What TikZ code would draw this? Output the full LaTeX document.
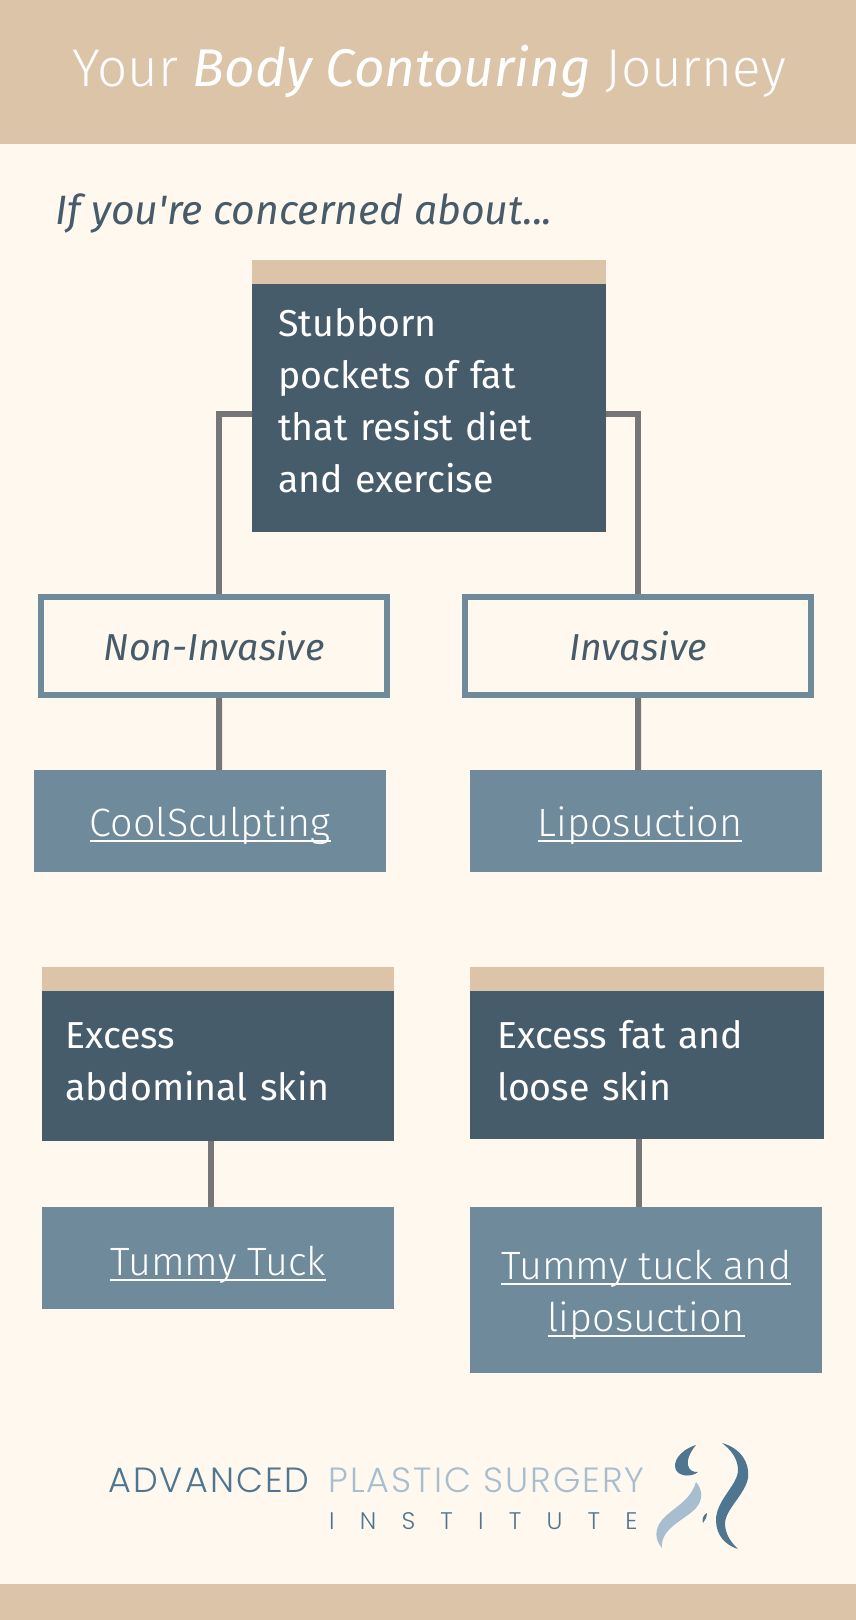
\documentclass[tikz,border=0pt]{standalone}
\usepackage{fontspec}
\usepackage{tikz}
\setmainfont{Fira Sans}
\newfontfamily\plainfont{Fira Sans}
\newfontfamily\lightfont{Fira Sans Light}
\newfontfamily\logofont[LetterSpace=6]{Poppins Light}
\newcommand{\linktext}[1]{\setbox0\hbox{#1}\rlap{\rule[-6pt]{\wd0}{2pt}}\box0}
\definecolor{tan}{HTML}{DBC4A8}
\definecolor{cream}{HTML}{FFF8EE}
\definecolor{slate}{HTML}{475C6B}
\definecolor{steel}{HTML}{6F8A9B}
\definecolor{wire}{HTML}{767676}
\definecolor{logodark}{HTML}{4F7690}
\definecolor{logolight}{HTML}{A7BED0}

\begin{document}
\begin{tikzpicture}[x=1pt, y=-1pt,
  band/.style={fill=tan},
  issue/.style={rectangle, fill=slate, text=white, anchor=north west, inner sep=0pt, font=\fontsize{37.5}{52}\selectfont, align=left},
  tabstrip/.style={rectangle, fill=tan, anchor=south west, inner sep=0pt, minimum height=24pt},
  kind/.style={rectangle, draw=steel, line width=6pt, fill=cream, text=slate, anchor=north west, inner sep=0pt, font=\fontsize{37.5}{44}\selectfont\itshape},
  treatment/.style={rectangle, fill=steel, text=white, anchor=north west, inner sep=0pt, minimum width=352pt, font=\lightfont\fontsize{39.5}{52}\selectfont, align=center},
  wirepath/.style={draw=wire, line width=6pt},
  logotext/.style={anchor=base west, inner sep=0pt}]
  \useasboundingbox (0,0) rectangle (856,1620);
  \fill[cream] (0,0) rectangle (856,1620);
  \fill[band] (0,0) rectangle (856,144);
  \fill[band] (0,1584) rectangle (856,1620);

  \node(title) [anchor=base, text=white, inner sep=0pt, font=\lightfont\fontsize{53}{60}\selectfont] at (429,86) {Your {\fontspec{Fira Sans}\itshape Body Contouring} Journey};
  \node(concern) [anchor=base west, text=slate, inner sep=0pt, font=\plainfont\fontsize{41}{48}\selectfont\itshape] at (55,224) {If you're concerned about...};

  \node(stubborn) [issue, minimum width=354pt, minimum height=248pt, text width=354pt] at (252,284) {\hspace*{26pt}Stubborn\\\hspace*{26pt}pockets of fat\\\hspace*{26pt}that resist diet\\\hspace*{26pt}and exercise\par\vspace*{16pt}};
  \node(stubborntab) [tabstrip, minimum width=354pt] at (252,284) {};

  \node(noninvasive) [kind, minimum width=346pt, minimum height=98pt] at (38,594) {Non-Invasive};
  \node(invasive) [kind, minimum width=346pt, minimum height=98pt] at (462,594) {Invasive};
  \node(coolsculpting) [treatment, minimum height=102pt] at (34,770) {\rule{0pt}{38pt}\linktext{CoolSculpting}};
  \node(liposuction) [treatment, minimum height=102pt] at (470,770) {\rule{0pt}{38pt}\linktext{Liposuction}\hspace*{12pt}};

  \node(abdominal) [issue, minimum width=352pt, minimum height=150pt, text width=352pt] at (42,991) {\hspace*{23pt}Excess\\\hspace*{23pt}abdominal skin\par\vspace*{9pt}};
  \node(abdominaltab) [tabstrip, minimum width=352pt] at (42,991) {};
  \node(loose) [issue, minimum width=354pt, minimum height=148pt, text width=354pt] at (470,991) {\hspace*{27pt}Excess fat and\\\hspace*{27pt}loose skin\par\vspace*{9pt}};
  \node(loosetab) [tabstrip, minimum width=354pt] at (470,991) {};
  \node(tummy) [treatment, minimum height=102pt] at (42,1207) {\rule{0pt}{42pt}\linktext{Tummy Tuck}};
  \node(tummylipo) [treatment, minimum height=166pt] at (470,1207) {\rule{0pt}{38pt}\linktext{Tummy tuck and}\\\linktext{liposuction}};

  \draw[wirepath] ([yshift=-6pt]stubborn.west) -| ([xshift=5pt]noninvasive.north);
  \draw[wirepath] ([yshift=-6pt]stubborn.east) -| (invasive.north);
  \draw[wirepath] ([xshift=5pt]noninvasive.south) -- ([xshift=9pt]coolsculpting.north);
  \draw[wirepath] (invasive.south) -- ([xshift=-8pt]liposuction.north);
  \draw[wirepath] ([xshift=-7pt]abdominal.south) -- ([xshift=-7pt]tummy.north);
  \draw[wirepath] ([xshift=-8pt]loose.south) -- ([xshift=-7pt]tummylipo.north);

  % logo
  \node(advanced) [logotext, text=logodark, font=\logofont\fontsize{35}{35}\selectfont] at (108,1492) {ADVANCED};
  \node(plastic) [logotext, text=logolight, font=\logofont\fontsize{35}{35}\selectfont] at (328,1492) {PLASTIC SURGERY};
  \node(institute) [logotext, text=logodark, font=\logofont\fontsize{24}{24}\selectfont] at (329,1529) {I\hspace{25.2pt}N\hspace{25.2pt}S\hspace{25.2pt}T\hspace{25.2pt}I\hspace{25.2pt}T\hspace{25.2pt}U\hspace{25.2pt}T\hspace{25.2pt}E};
  \fill[logodark] (696,1445) .. controls (680,1450) and (672,1462) .. (676,1470) .. controls (680,1477) and (692,1477) .. (698,1472) .. controls (688,1473) and (682,1462) .. (696,1445);
  \fill[logodark] (722,1443) .. controls (740,1448) and (750,1462) .. (748,1478) .. controls (745,1495) and (724,1510) .. (725,1525) .. controls (726,1537) and (733,1544) .. (738,1549) .. controls (725,1545) and (716,1535) .. (716,1520) .. controls (716,1500) and (738,1485) .. (738,1470) .. controls (738,1458) and (730,1449) .. (722,1443);
  \fill[logodark] (707,1513) .. controls (703,1515) and (702,1519) .. (703,1523) .. controls (705,1520) and (707,1517) .. (707,1513);
  \fill[logolight] (696,1482) .. controls (703,1490) and (703,1500) .. (696,1508) .. controls (685,1520) and (660,1528) .. (662,1548) .. controls (655,1540) and (654,1530) .. (662,1520) .. controls (672,1508) and (690,1502) .. (696,1482);
\end{tikzpicture}
\end{document}
